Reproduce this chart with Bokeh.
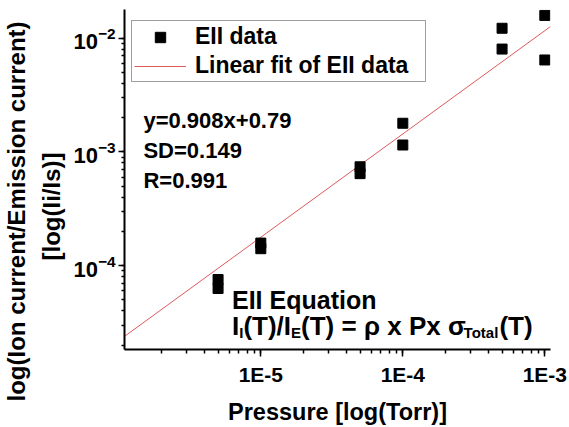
import math
from bokeh.plotting import figure
from bokeh.models import (Label, Legend, LegendItem, CustomJSTickFormatter, Range1d,
                          ColumnDataSource, Title)
from bokeh.embed import file_html
from bokeh.resources import INLINE

# ---- data ----
pressure = [5e-6, 5e-6, 1e-5, 1e-5, 5e-5, 5e-5, 1e-4, 1e-4, 5e-4, 5e-4, 1e-3, 1e-3]
current_ratio = [7.55e-5, 6.3e-5, 1.58e-4, 1.41e-4, 7.4e-4, 6.44e-4,
                 1.786e-3, 1.15e-3, 1.222e-2, 8.02e-3, 1.585e-2, 6.43e-3]
fit_slope = 0.908
fit_intercept = 0.79
x_ticks = [1e-5, 1e-4, 1e-3]
x_tick_labels = ["1E-5", "1E-4", "1E-3"]
series_labels = ["EII data", "Linear fit of EII data"]
fit_text = ["y=0.908x+0.79", "SD=0.149", "R=0.991"]
y_label_lines = ["log(Ion current/Emission current)", "[log(Ii/Is)]"]
x_label = "Pressure [log(Torr)]"

# ---- layout ----
W, H = 569, 427
FL, FR, FT, FB = 122, 19, 9, 74
LX0, LX1 = -5.96, -2.96
LY0, LY1 = -4.737, -1.748
FW, FH = W - FL - FR, H - FT - FB

def dx(px):
    return 10 ** (LX0 + (px - FL) / FW * (LX1 - LX0))

def dy(py):
    return 10 ** (LY1 - (py - FT) / FH * (LY1 - LY0))

FONT = "Liberation Sans"

p = figure(width=W, height=H, x_axis_type="log", y_axis_type="log",
           x_range=Range1d(10 ** LX0, 10 ** LX1), y_range=Range1d(10 ** LY0, 10 ** LY1),
           output_backend="svg", toolbar_location=None,
           min_border_left=FL, min_border_right=FR, min_border_top=FT, min_border_bottom=FB)
p.outline_line_color = None
p.xgrid.visible = False
p.ygrid.visible = False
p.background_fill_color = "white"
p.border_fill_color = "white"

# fit line from the fit parameters across the x range
fx = [10 ** LX0, 10 ** LX1]
fy = [10 ** (fit_slope * math.log10(v) + fit_intercept) for v in fx]
ln = p.line(fx, fy, line_color="#e05a5a", line_width=1)

src = ColumnDataSource(dict(x=pressure, y=current_ratio))
sc = p.scatter("x", "y", source=src, marker="square", size=10,
               fill_color="black", line_color="black")

for ax in (p.xaxis[0], p.yaxis[0]):
    ax.axis_line_width = 2
    ax.major_tick_line_width = 1.5
    ax.minor_tick_line_width = 1.5
    ax.major_tick_in = 0
    ax.minor_tick_in = 0
    ax.major_label_text_font = FONT
    ax.major_label_text_font_style = "bold"
    ax.axis_label_text_font = FONT
    ax.axis_label_text_font_style = "bold"
    ax.axis_label_text_color = "black"
    ax.major_label_text_color = "black"

xa = p.xaxis[0]
xa.major_tick_out = 7
xa.minor_tick_out = 4
xa.major_label_standoff = 6
xa.major_label_text_font_size = "21px"
xa.formatter = CustomJSTickFormatter(args=dict(tvals=x_ticks, tlabels=x_tick_labels), code="""
const k = Math.round(Math.log10(tick));
for (let i = 0; i < tvals.length; i++) {
  if (Math.round(Math.log10(tvals[i])) == k) return tlabels[i];
}
return "";
""")
xa.axis_label = x_label
xa.axis_label_text_font_size = "23.5px"
xa.axis_label_standoff = 10

ya = p.yaxis[0]
ya.major_tick_out = 6
ya.minor_tick_out = 3
ya.major_label_standoff = 3
ya.major_label_text_font_size = "22px"

# y axis title: two rotated lines placed in the left panel
t2 = Title(text=y_label_lines[1], align="left", offset=89, standoff=12,
           text_font=FONT, text_font_style="bold", text_font_size="24px", text_color="black")
t1 = Title(text=y_label_lines[0], align="left", offset=-52, standoff=0,
           text_font=FONT, text_font_style="bold", text_font_size="24px", text_color="black")
p.add_layout(t2, "left")
p.add_layout(t1, "left")

legend = Legend(items=[LegendItem(label=series_labels[0], renderers=[sc]),
                       LegendItem(label=series_labels[1], renderers=[ln])],
                location=(7, 267), margin=0, padding=2, spacing=2,
                glyph_width=52, glyph_height=26, label_height=26, label_width=228,
                label_standoff=9, border_line_color="#404040", border_line_width=1,
                label_text_font=FONT, label_text_font_style="bold",
                label_text_font_size="23px", label_text_color="black",
                background_fill_color="white", background_fill_alpha=1)
p.add_layout(legend, "center")

def add_text(txt, px, py, size, xoff=0, yoff=0):
    p.add_layout(Label(x=dx(px), y=dy(py), text=txt, x_offset=xoff, y_offset=yoff,
                       text_font=FONT, text_font_style="bold",
                       text_font_size=f"{size}px", text_color="black",
                       text_baseline="alphabetic", text_align="left"))

# fit statistics
for i, t in enumerate(fit_text):
    add_text(t, 141, 121.7 + 30 * i, 22)

# EII equation title
add_text("EII Equation", 230, 303, 25)

# equation with subscripts: pieces laid out with Arial-bold advance widths
adv = {"I": 278, "(": 333, "T": 611, ")": 333, "/": 278, "E": 667, " ": 278, "=": 584,
       "ρ": 611, "x": 556, "P": 667, "σ": 611, "o": 611, "t": 333, "a": 556, "l": 278}
MAIN, SUB = 26, 15
pieces = [("I", False), ("I", True), ("(T)/I", False), ("E", True),
          ("(T) = ρ x Px σ", False), ("Total", True), ("(T)", False)]
off = 0.0
for txt, is_sub in pieces:
    size = SUB if is_sub else MAIN
    add_text(txt, 230, 329, size, xoff=off, yoff=(-7 if is_sub else 0))
    off += sum(adv[c] for c in txt) / 1000 * size

open("out.html", "w").write(file_html(p, INLINE))
